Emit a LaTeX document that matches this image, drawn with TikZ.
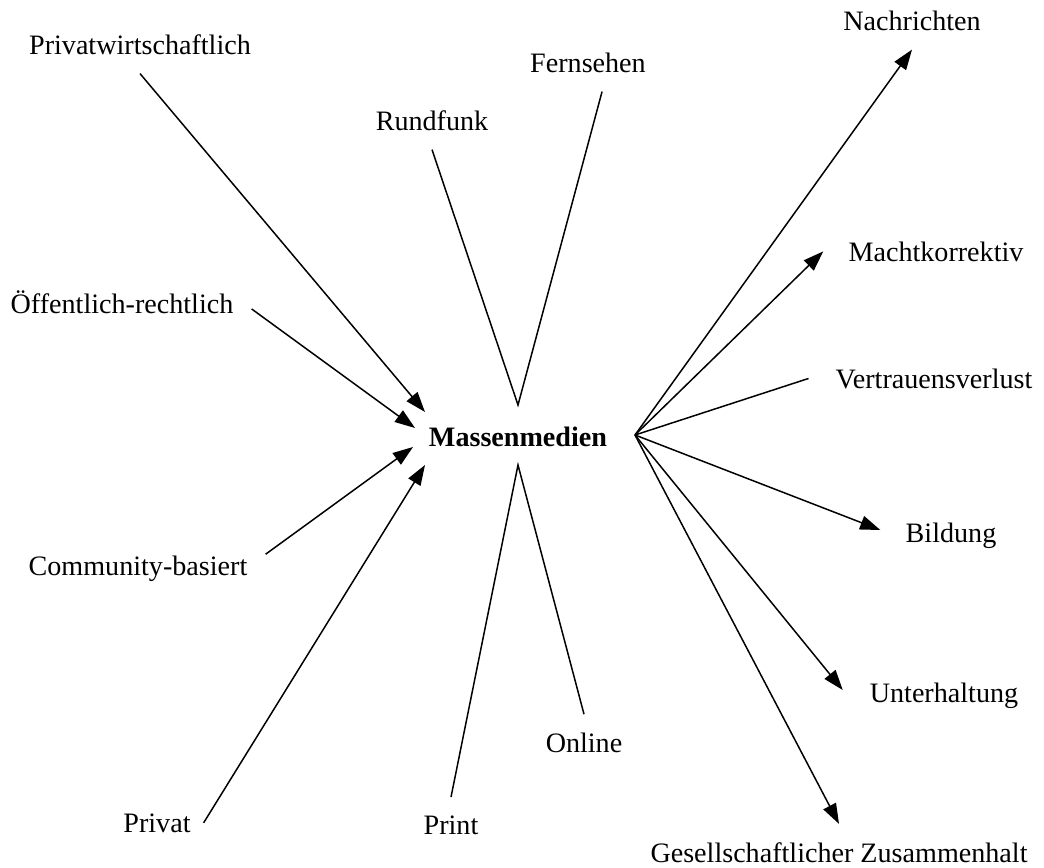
\documentclass[tikz,border=0pt]{standalone}
\usepackage{fontspec}
\setmainfont{Liberation Serif}
\usetikzlibrary{arrows.meta,positioning}

\begin{document}
\begin{tikzpicture}[%
    x = 0.02cm, y = -0.02cm, line width = 0.85pt,
    >={Triangle[length=11.5pt,width=8pt]},
    lbl/.style    = {inner sep=10pt, anchor=base, font=\fontsize{16}{19}\selectfont},
    centre/.style = {lbl, font=\fontsize{16}{19}\selectfont\bfseries},
    hub/.style    = {coordinate}]

  \useasboundingbox (0,0) rectangle (1044,868);

  \draw (518,446) node[centre] (mm) {Massenmedien};

  % Traeger
  \draw (140,55)  node[lbl] (pw) {Privatwirtschaftlich};
  \draw (122,313) node[lbl] (oe) {Öffentlich-rechtlich};
  \draw (138,575) node[lbl] (cb) {Community-basiert};
  \draw (157,832) node[lbl] (pr) {Privat};
  \draw (425,412) node[hub] (in1) {};
  \draw (415,428) node[hub] (in2) {};
  \draw (413,447) node[hub] (in3) {};
  \draw (425,465) node[hub] (in4) {};
  \draw [->] (pw.south) -- (in1);
  \draw [->] (oe.mid east) -- (in2);
  \draw [->] ([yshift=8pt]cb.east) -- (in3);
  \draw [->] ([xshift=-3pt]pr.east) -- (in4);

  % Kanaele
  \draw (432,131) node[lbl] (rf) {Rundfunk};
  \draw (588,73)  node[lbl] (fs) {Fernsehen};
  \draw (451,834) node[lbl] (pt) {Print};
  \draw (584,752) node[lbl] (on) {Online};
  \draw (518,405) node[hub] (top) {};
  \draw (518,465) node[hub] (bot) {};
  \draw (rf.south) -- (top) -- ([xshift=8pt]fs.south);
  \draw (pt.north) -- (bot) -- (on.north);

  % Funktionen
  \draw (912,31)  node[lbl] (na) {Nachrichten};
  \draw (936,261) node[lbl] (mk) {Machtkorrektiv};
  \draw (934,388) node[lbl] (vv) {Vertrauensverlust};
  \draw (951,542) node[lbl] (bi) {Bildung};
  \draw (944,702) node[lbl] (uh) {Unterhaltung};
  \draw (839,862) node[lbl] (gz) {Gesellschaftlicher Zusammenhalt};
  \draw (635,435) node[hub] (out) {};
  \draw [->] (out) -- (na.south);
  \draw [->] (out) -- ([xshift=-4pt]mk.west);
  \draw (out) -- ([xshift=-5pt]vv.west);
  \draw [->] (out) -- ([xshift=-4pt,yshift=3pt]bi.west);
  \draw [->] (out) -- ([xshift=-5pt,yshift=3pt]uh.west);
  \draw [->] (out) -- (gz.north);

\end{tikzpicture}
\end{document}
